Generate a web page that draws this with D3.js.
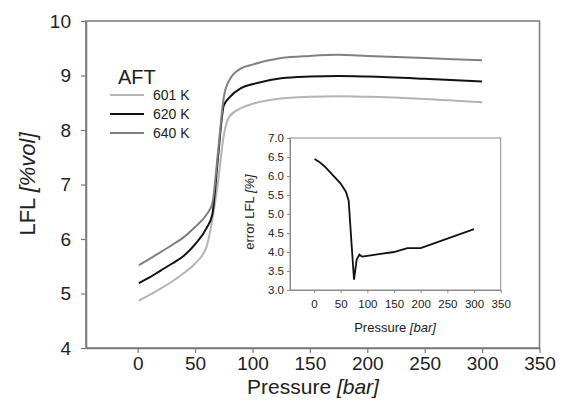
<!DOCTYPE html>
<html><head><meta charset="utf-8">
<script src="https://cdn.jsdelivr.net/npm/d3@7"></script>
<style>body{margin:0;background:#fff}svg{display:block}text{font-family:"Liberation Sans",Arial,sans-serif;fill:#222}</style>
</head><body><svg id="c" width="562" height="420"></svg>
<script>
const pressure = [1, 10, 20, 30, 40, 50, 60, 65, 70, 75, 80, 90, 100, 125, 150, 175, 200, 250, 300];
const lfl601 = [4.87, 4.97, 5.09, 5.22, 5.37, 5.55, 5.86, 6.35, 7.05, 7.9, 8.25, 8.4, 8.48, 8.58, 8.61, 8.62, 8.61, 8.57, 8.51];
const lfl620 = [5.19, 5.29, 5.42, 5.55, 5.69, 5.9, 6.2, 6.45, 7.5, 8.45, 8.6, 8.77, 8.84, 8.95, 8.98, 8.99, 8.98, 8.94, 8.89];
const lfl640 = [5.52, 5.63, 5.76, 5.89, 6.03, 6.22, 6.45, 6.65, 7.6, 8.6, 8.92, 9.13, 9.2, 9.32, 9.36, 9.38, 9.36, 9.32, 9.28];
const seriesNames = ["601 K", "620 K", "640 K"];
const seriesColors = ["#b4b4b4", "#111111", "#808080"];
const errPressure = [1, 10, 20, 30, 40, 50, 60, 65, 70, 75, 80, 85, 90, 100, 125, 150, 175, 200, 250, 300];
const errValues = [6.45, 6.37, 6.25, 6.1, 5.95, 5.8, 5.58, 5.35, 4.3, 3.27, 3.8, 3.93, 3.88, 3.9, 3.95, 4.0, 4.1, 4.1, 4.35, 4.6];
const xTicks = [0, 50, 100, 150, 200, 250, 300, 350];
const yTicks = [4, 5, 6, 7, 8, 9, 10];
const insetYTicks = [3.0, 3.5, 4.0, 4.5, 5.0, 5.5, 6.0, 6.5, 7.0];

const svg = d3.select("#c");
const series = [lfl601, lfl620, lfl640];

// main plot
const L = 86, R = 539.5, T = 21, B = 348;
const x = d3.scaleLinear().domain([-45, 350]).range([L, R]);
const y = d3.scaleLinear().domain([4, 10]).range([B, T]);

svg.append("rect").attr("x", L).attr("y", T).attr("width", R - L).attr("height", B - T)
  .attr("fill", "none").attr("stroke", "#7a7a7a").attr("stroke-width", 1.5);

const gx = svg.append("g").attr("transform", `translate(0,${B})`)
  .call(d3.axisBottom(x).tickValues(xTicks).tickFormat(d3.format("d")).tickSize(5).tickSizeOuter(0).tickPadding(4));
const gy = svg.append("g").attr("transform", `translate(${L},0)`)
  .call(d3.axisLeft(y).tickValues(yTicks).tickFormat(d3.format("d")).tickSize(5).tickSizeOuter(0).tickPadding(10));
[gx, gy].forEach(g => {
  g.select(".domain").attr("stroke", "#7a7a7a").attr("stroke-width", 1.5);
  g.selectAll(".tick line").attr("stroke", "#7a7a7a").attr("stroke-width", 1.2);
  g.selectAll(".tick text").style("font-size", "19px").attr("fill", "#222").style("font-family", "Liberation Sans, Arial, sans-serif");
});

svg.append("text").attr("x", 313).attr("y", 394).attr("text-anchor", "middle").style("font-size", "21px")
  .html('Pressure <tspan font-style="italic">[bar]</tspan>');
svg.append("text").attr("transform", "translate(35,184) rotate(-90)").attr("text-anchor", "middle").style("font-size", "22px")
  .html('LFL <tspan font-style="italic">[%vol]</tspan>');

const line = d3.line().x((d, i) => x(pressure[i])).y(d => y(d)).curve(d3.curveMonotoneX);
series.forEach((s, k) => {
  svg.append("path").datum(s).attr("d", line).attr("fill", "none")
    .attr("stroke", seriesColors[k]).attr("stroke-width", 2);
});

// legend
svg.append("text").attr("x", 118).attr("y", 84).style("font-size", "20px").text("AFT");
seriesNames.forEach((n, k) => {
  const yy = 95 + k * 19;
  svg.append("line").attr("x1", 110).attr("x2", 144).attr("y1", yy).attr("y2", yy)
    .attr("stroke", seriesColors[k]).attr("stroke-width", 2);
  svg.append("text").attr("x", 153).attr("y", yy + 5).style("font-size", "14px").text(n);
});

// inset
const iL = 290, iR = 500.7, iT = 138, iB = 290;
const ix = d3.scaleLinear().domain([-45, 350]).range([iL, iR]);
const iy = d3.scaleLinear().domain([3, 7]).range([iB, iT]);
svg.append("rect").attr("x", iL).attr("y", iT).attr("width", iR - iL).attr("height", iB - iT)
  .attr("fill", "#fff").attr("stroke", "#8a8a8a").attr("stroke-width", 1);
const igx = svg.append("g").attr("transform", `translate(0,${iB})`)
  .call(d3.axisBottom(ix).tickValues(xTicks).tickFormat(d3.format("d")).tickSize(3).tickSizeOuter(0).tickPadding(7));
const igy = svg.append("g").attr("transform", `translate(${iL},0)`)
  .call(d3.axisLeft(iy).tickValues(insetYTicks).tickFormat(d3.format(".1f")).tickSize(3).tickSizeOuter(0).tickPadding(3));
[igx, igy].forEach(g => {
  g.select(".domain").attr("stroke", "#8a8a8a");
  g.selectAll(".tick line").attr("stroke", "#8a8a8a");
  g.selectAll(".tick text").style("font-size", "11.5px").attr("fill", "#333").style("font-family", "Liberation Sans, Arial, sans-serif");
});
svg.append("text").attr("x", 395).attr("y", 332).attr("text-anchor", "middle").style("font-size", "13px")
  .html('Pressure <tspan font-style="italic">[bar]</tspan>');
svg.append("text").attr("transform", "translate(254,212) rotate(-90)").attr("text-anchor", "middle").style("font-size", "13px")
  .html('error LFL <tspan font-style="italic">[%]</tspan>');
const iline = d3.line().x((d, i) => ix(errPressure[i])).y(d => iy(d));
svg.append("path").datum(errValues).attr("d", iline).attr("fill", "none")
  .attr("stroke", "#111").attr("stroke-width", 1.8);
</script></body></html>
